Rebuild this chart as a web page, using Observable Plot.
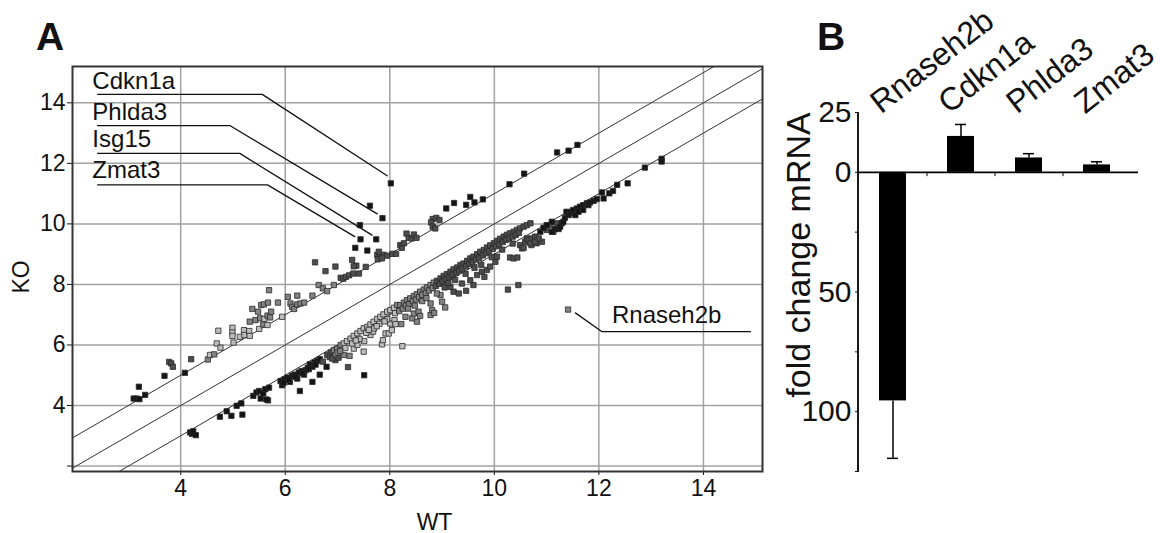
<!DOCTYPE html>
<html><head><meta charset="utf-8">
<script src="https://cdn.jsdelivr.net/npm/d3@7"></script>
<script src="https://cdn.jsdelivr.net/npm/@observablehq/plot@0.6"></script>
<style>
body{margin:0;background:#fff;}
#wrap{position:relative;width:1160px;height:533px;font-family:"Liberation Sans",Arial,sans-serif;color:#111;}
#pa{position:absolute;left:0;top:0;}
#pb{position:absolute;left:790px;top:0;}
.letter{position:absolute;font-weight:bold;font-size:39px;line-height:39px;}
</style></head><body>
<div id="wrap"><div id="pa"></div><div id="pb"></div>
<div class="letter" style="left:36px;top:17px">A</div>
<div class="letter" style="left:817px;top:17px">B</div></div>
<script>
// ---------- Panel A data (log2 expression, WT vs KO) ----------
const xTicksA = [4, 6, 8, 10, 12, 14];
const yTicksA = [2, 4, 6, 8, 10, 12, 14];
const diagOffsets = [1, 0, -1];
const toneColors = {k: "#141414", d: "#4d4d4d", m: "#838383", l: "#bdbdbd"};

const upperBand = [
[3.10,4.23,"k"],[3.16,4.23,"k"],[3.21,4.21,"k"],[3.20,4.62,"k"],[3.32,4.35,"k"],[3.69,4.98,"k"],
[3.78,5.44,"d"],[3.82,5.39,"d"],[3.85,5.28,"d"],[4.08,5.08,"k"],[4.20,5.53,"d"],
[4.52,5.52,"m"],[4.56,5.67,"l"],[4.64,5.69,"m"],[4.69,6.05,"l"],[4.76,5.91,"l"],[4.72,6.47,"l"],
[4.99,6.57,"l"],[4.99,6.41,"l"],[4.99,6.30,"l"],[5.01,6.08,"l"],[5.13,6.27,"l"],[5.21,6.49,"l"],[5.22,6.33,"l"],[5.31,6.46,"l"],[5.32,6.30,"l"],
[5.32,6.77,"m"],[5.37,7.19,"m"],[5.43,6.82,"m"],[5.48,7.10,"m"],[5.50,6.53,"l"],[5.52,6.88,"m"],[5.54,7.32,"m"],[5.58,6.68,"m"],[5.59,7.34,"m"],[5.60,6.86,"l"],[5.66,6.97,"m"],[5.67,7.40,"m"],[5.69,7.81,"m"],[5.66,6.66,"l"],[5.73,7.10,"m"],[5.71,6.91,"m"],[5.86,7.40,"m"],[5.94,6.93,"l"],
[6.05,7.59,"m"],[6.10,7.37,"m"],[6.13,7.26,"m"],[6.17,7.19,"m"],[6.23,7.63,"m"],[6.23,7.34,"m"],[6.29,7.37,"m"],[6.36,7.40,"m"],[6.52,7.63,"m"],
[6.57,8.73,"d"],[6.64,7.98,"m"],[6.72,7.87,"m"],[6.80,7.78,"m"],[6.93,7.98,"m"],[6.77,8.44,"d"],[6.96,8.59,"d"],
[7.06,8.22,"d"],[7.11,8.19,"d"],[7.16,8.25,"d"],[7.22,8.30,"d"],[7.30,8.36,"d"],[7.28,8.81,"d"],[7.36,8.62,"d"],[7.31,8.60,"d"],[7.41,8.36,"d"],[7.34,9.21,"k"],[7.57,9.12,"k"],[7.54,8.58,"d"],
[7.76,8.98,"d"],[7.82,8.95,"d"],[7.88,8.98,"d"],[7.95,8.95,"d"],[8.05,9.01,"d"],[8.12,9.01,"d"],[7.77,8.83,"d"],[7.85,8.86,"d"],[7.79,9.08,"d"],
[8.20,9.30,"d"],[8.23,9.21,"d"],[8.27,9.36,"d"],[8.32,9.68,"d"],[8.36,9.54,"d"],[8.42,9.52,"d"],[8.46,9.65,"d"],[8.51,9.54,"d"],
[8.82,10.16,"d"],[8.89,10.20,"d"],[8.95,10.13,"d"],[8.79,10.05,"d"],[8.82,9.91,"d"],[8.87,9.85,"d"],
[9.08,10.51,"k"],[9.23,10.69,"k"],[9.46,10.63,"k"],[9.54,10.89,"k"],[9.62,10.71,"k"],[9.78,10.81,"k"],[10.29,11.31,"k"],[10.57,11.66,"k"],[11.20,12.36,"k"],[11.42,12.42,"k"],[11.59,12.61,"k"],
[7.62,10.60,"k"],[7.43,9.96,"k"]
];

const lowerBand = [
[4.18,3.11,"k"],[4.22,3.06,"k"],[4.24,3.15,"k"],[4.29,3.02,"k"],[4.75,3.63,"k"],[4.88,3.81,"k"],[4.97,3.66,"k"],[5.07,3.99,"k"],[5.16,4.07,"k"],[5.18,3.70,"k"],[5.39,4.32,"k"],[5.45,4.43,"k"],[5.50,4.48,"k"],[5.53,4.23,"k"],[5.58,4.40,"k"],[5.62,4.54,"k"],[5.67,4.17,"k"],[5.69,4.59,"k"],[5.64,4.20,"k"],
[5.91,4.81,"k"],[5.94,4.67,"k"],[5.99,4.87,"k"],[6.04,4.92,"k"],[6.09,4.78,"k"],[6.13,4.98,"k"],[6.18,5.02,"k"],[6.23,4.89,"k"],[6.26,5.09,"k"],[6.31,5.14,"k"],[6.36,5.02,"k"],[6.39,5.17,"k"],[6.43,5.25,"k"],[6.47,5.36,"k"],[6.52,5.28,"k"],[6.56,5.42,"k"],[6.61,5.47,"k"],[6.66,5.53,"k"],
[5.97,4.75,"k"],[6.07,4.85,"k"],[6.20,4.95,"k"],[6.33,5.07,"k"],[6.45,5.20,"k"],[6.58,5.35,"k"],
[6.28,4.48,"k"],[6.52,4.78,"k"],[6.66,5.02,"k"],[6.79,5.28,"k"],[7.20,5.27,"d"],[7.51,5.00,"k"],
[6.80,5.67,"d"],[6.87,5.75,"d"],[6.93,5.83,"m"],[6.99,5.88,"m"],[7.06,6.00,"m"],[7.12,6.05,"l"],[7.18,6.13,"l"],[7.25,6.21,"l"],[7.31,6.30,"l"],[7.38,6.38,"l"],[7.44,6.46,"l"],[7.50,6.55,"l"],[7.57,6.60,"l"],[7.63,6.68,"l"],[7.69,6.77,"l"],[7.76,6.86,"l"],[7.82,6.93,"l"],[7.88,7.01,"l"],[7.95,7.10,"l"],[8.01,7.15,"l"],[8.08,7.23,"l"],[8.14,7.32,"m"],
[6.96,5.50,"d"],[7.02,5.58,"d"],[7.12,5.67,"m"],[7.23,5.64,"m"],[7.31,5.88,"l"],[7.38,6.00,"l"],[7.50,5.78,"l"],[7.51,6.13,"l"],[7.63,6.33,"l"],[7.68,6.44,"l"],[7.85,6.02,"l"],[7.87,6.16,"l"],[7.92,6.38,"l"],[8.01,6.71,"l"],[8.09,6.82,"l"],[8.24,5.96,"l"],
[6.72,5.45,"d"],[6.85,5.60,"d"],[7.00,5.75,"m"],[7.15,5.90,"l"],[7.28,6.05,"l"],[7.42,6.20,"l"],[7.55,6.40,"l"],[7.70,6.55,"l"],[7.80,6.70,"l"],[7.95,6.85,"l"],[6.90,5.55,"d"],[7.05,5.80,"m"],[7.35,6.15,"l"],[7.60,6.50,"l"],[7.75,6.62,"l"],[7.90,6.78,"l"],
[8.20,7.32,"m"],[8.27,7.40,"m"],[8.33,7.48,"m"],[8.39,7.54,"m"],[8.46,7.62,"m"],[8.52,7.68,"m"],[8.58,7.76,"m"],[8.65,7.83,"m"],[8.71,7.90,"m"],[8.78,7.98,"m"],[8.84,8.06,"m"],[8.90,8.12,"d"],[8.97,8.20,"d"],[9.03,8.28,"d"],[9.09,8.34,"d"],[9.16,8.42,"d"],[9.22,8.50,"d"],[9.29,8.56,"d"],[9.35,8.64,"d"],[9.41,8.69,"d"],[9.48,8.78,"d"],[9.54,8.86,"d"],[9.60,8.92,"d"],[9.67,9.00,"d"],[9.73,9.08,"d"],[9.80,9.14,"d"],[9.86,9.22,"d"],[9.92,9.29,"d"],[9.99,9.36,"d"],[10.05,9.44,"d"],[10.11,9.51,"d"],[10.18,9.58,"d"],[10.24,9.64,"d"],[10.30,9.69,"d"],[10.37,9.74,"d"],[10.43,9.80,"d"],[10.49,9.85,"d"],[10.56,9.91,"d"],[10.62,9.96,"d"],[10.69,10.02,"d"],
[8.10,7.05,"l"],[8.18,7.12,"m"],[8.25,7.20,"m"],[8.31,7.30,"m"],[8.37,7.35,"m"],[8.44,7.45,"m"],[8.50,7.50,"m"],[8.56,7.58,"m"],[8.62,7.66,"m"],[8.69,7.72,"m"],[8.75,7.80,"m"],[8.82,7.88,"m"],[8.88,7.95,"d"],[8.95,8.02,"d"],[9.01,8.10,"d"],[9.07,8.17,"d"],[9.14,8.24,"d"],[9.20,8.32,"d"],[9.27,8.38,"d"],[9.33,8.46,"d"],[9.39,8.52,"d"],[9.46,8.60,"d"],[9.52,8.68,"d"],[9.58,8.74,"d"],[9.65,8.82,"d"],[9.71,8.88,"d"],[9.78,8.96,"d"],[9.84,9.03,"d"],[9.90,9.10,"d"],[9.97,9.18,"d"],[10.03,9.26,"d"],[10.09,9.32,"d"],[10.16,9.40,"d"],[10.22,9.47,"d"],[10.28,9.52,"d"],[10.35,9.58,"d"],[10.41,9.64,"d"],[10.47,9.70,"d"],
[7.98,6.38,"l"],[8.04,6.49,"l"],[8.11,6.69,"l"],[8.22,6.69,"m"],[8.30,6.93,"m"],[8.43,6.88,"m"],[8.46,7.04,"m"],[8.52,6.77,"m"],[8.55,7.10,"m"],[8.58,6.96,"m"],[8.78,6.99,"m"],[8.81,7.15,"m"],[8.85,7.06,"m"],[8.78,7.37,"m"],[9.00,7.43,"m"],[9.06,7.24,"m"],[8.97,7.65,"m"],[9.22,7.76,"d"],[9.32,7.70,"d"],[9.46,7.79,"d"],[9.16,7.92,"d"],[9.38,8.03,"d"],[9.54,8.14,"d"],[9.60,7.98,"d"],[9.67,8.31,"d"],[9.76,8.42,"d"],[9.86,8.48,"d"],[9.81,8.25,"d"],[9.92,8.59,"d"],[10.02,8.75,"d"],[10.05,8.92,"d"],[10.26,7.83,"d"],[10.46,7.98,"d"],[10.30,8.89,"d"],[10.37,8.86,"d"],[10.44,8.89,"d"],[10.71,9.30,"d"],[10.81,9.36,"d"],[10.91,9.41,"d"],[10.49,9.30,"d"],[10.59,9.41,"d"],[10.62,9.52,"d"],[11.00,9.80,"d"],[11.07,9.96,"d"],[11.13,9.74,"d"],[11.20,10.02,"d"],
[8.35,7.20,"m"],[8.48,7.30,"m"],[8.62,7.45,"m"],[8.70,7.55,"m"],[8.90,7.70,"m"],[9.05,7.90,"d"],[9.12,8.05,"d"],[9.25,8.15,"d"],[9.45,8.35,"d"],[9.62,8.55,"d"],[9.75,8.65,"d"],[9.95,8.90,"d"],[10.15,9.15,"d"],[10.35,9.35,"d"],
[10.53,9.19,"d"],[10.56,9.21,"d"],[10.65,9.47,"d"],[10.69,9.36,"d"],[10.72,9.52,"d"],[10.78,9.58,"d"],[10.78,9.41,"d"],[10.85,9.52,"d"],[10.88,9.74,"k"],[10.94,9.87,"k"],[11.00,9.96,"k"],[11.10,10.07,"k"],[11.10,9.74,"k"],[11.16,9.83,"k"],[11.23,9.83,"k"],[11.26,9.91,"k"],[11.29,10.02,"k"],[11.32,10.07,"k"],[11.35,10.20,"k"],[11.38,10.40,"k"],[11.42,10.29,"k"],[11.45,10.35,"k"],[11.48,10.40,"k"],[11.51,10.46,"k"],[11.55,10.29,"k"],[11.58,10.51,"k"],[11.61,10.40,"k"],[11.64,10.57,"k"],[11.70,10.62,"k"],[11.70,10.46,"k"],[11.77,10.68,"k"],[11.80,10.62,"k"],[11.83,10.71,"k"],[11.90,10.76,"k"],[11.96,10.82,"k"],[12.06,11.04,"k"],[12.09,10.84,"k"],[12.20,11.01,"k"],[12.27,11.09,"k"],[12.35,11.29,"k"],[12.55,11.34,"k"],[12.88,11.86,"k"],[13.20,12.15,"k"],[13.20,12.06,"k"],
[11.41,7.17,"m"]
];

// labelled genes: point, text anchor, leader path
const geneNames  = ["Cdkn1a", "Phlda3", "Isg15", "Zmat3", "Rnaseh2b"];
const genePointX = [8.02, 7.86, 7.74, 7.44, 11.41];
const genePointY = [11.34, 10.19, 9.49, 9.49, 7.17];
const geneLabelX = [2.31, 2.31, 2.31, 2.31, 12.25];
const geneLabelY = [14.45, 13.43, 12.55, 11.50, 6.71];
const leaderPaths = [
  [[2.41,14.28],[5.56,14.28],[7.95,11.59]],
  [[2.41,13.25],[4.94,13.25],[7.76,10.33]],
  [[2.41,12.33],[5.13,12.33],[7.66,9.63]],
  [[2.41,11.29],[5.66,11.29],[7.33,9.58]],
  [[11.55,7.06],[12.06,6.44],[14.90,6.44]]
];

// ---------- Panel B data (qPCR fold change) ----------
const barGenes = ["Rnaseh2b", "Cdkn1a", "Phlda3", "Zmat3"];
const foldChange = [-95.5, 15, 6, 3.1];
const foldError = [24, 5, 1.8, 1.3];
const yTicksB = [25, 0, -25, -50, -75, -100, -125];
const yLabelsB = [25, 0, -50, -100];

const FONT = '"Liberation Sans", Arial, sans-serif';

// ---------- Panel A ----------
const xDomain = [1.93, 15.13], yDomain = [1.82, 15.2];
const points = upperBand.concat(lowerBand).map(([x, y, t]) => ({x, y, t}));
const genePts = geneNames.map((g, i) => ({gene: g, x: genePointX[i], y: genePointY[i]}));
const geneLbl = geneNames.map((g, i) => ({gene: g, x: geneLabelX[i], y: geneLabelY[i]}));
const leaderRows = leaderPaths.flatMap((p, i) => p.map(([x, y]) => ({gene: geneNames[i], x, y})));

const plotA = Plot.plot({
  width: 790, height: 533,
  marginLeft: 72, marginRight: 28, marginTop: 66, marginBottom: 62,
  x: {domain: xDomain},
  y: {domain: yDomain},
  style: {fontFamily: FONT, fontSize: "23px", color: "#111", background: "white", overflow: "visible"},
  marks: [
    Plot.gridX(xTicksA, {stroke: "#a2a2a2", strokeOpacity: 1, strokeWidth: 1.5}),
    Plot.gridY(yTicksA, {stroke: "#a2a2a2", strokeOpacity: 1, strokeWidth: 1.5}),
    Plot.link(diagOffsets, {x1: () => xDomain[0], y1: d => xDomain[0] + d, x2: () => xDomain[1], y2: d => xDomain[1] + d, clip: true, stroke: "#333", strokeWidth: 1}),
    Plot.dot(points, {x: "x", y: "y", symbol: "square", r: 3, fill: d => toneColors[d.t], stroke: "#2a2a2a", strokeWidth: 0.8}),
    Plot.dot(genePts.slice(0, 4), {x: "x", y: "y", symbol: "square", r: 3, fill: toneColors.k, stroke: "#2a2a2a", strokeWidth: 0.8}),
    Plot.line(leaderRows, {x: "x", y: "y", z: "gene", stroke: "#111", strokeWidth: 1.3}),
    Plot.text(geneLbl, {x: "x", y: "y", text: "gene", textAnchor: "start", lineAnchor: "bottom", fontSize: 24, fill: "#111"}),
    Plot.axisX(xTicksA, {tickSize: 4, tickPadding: 4, fontSize: 23, label: null}),
    Plot.axisY(yTicksA, {tickSize: 5, tickPadding: 2, fontSize: 23, label: null, tickFormat: d => d === 2 ? "" : String(d)}),
    Plot.text(["WT"], {frameAnchor: "bottom", textAnchor: "middle", lineAnchor: "middle", dx: 17, dy: 51, fontSize: 23}),
    Plot.text(["KO"], {frameAnchor: "left", textAnchor: "middle", lineAnchor: "middle", dx: -51, dy: 8, rotate: -90, fontSize: 23}),
    Plot.frame({stroke: "#333", strokeWidth: 2})
  ]
});
document.getElementById("pa").appendChild(plotA);

// ---------- Panel B ----------
const rows = barGenes.map((g, i) => ({gene: g, value: foldChange[i], err: foldError[i], end: foldChange[i] + Math.sign(foldChange[i]) * foldError[i]}));

const plotB = Plot.plot({
  width: 370, height: 533,
  marginLeft: 69, marginRight: 22, marginTop: 112, marginBottom: 62,
  x: {domain: barGenes, range: [69, 341], paddingInner: 0.6, paddingOuter: 0.3, axis: null},
  y: {domain: [-125, 25], axis: null},
  style: {fontFamily: FONT, fontSize: "30px", color: "#111", background: "white", overflow: "visible"},
  marks: [
    Plot.ruleX(rows, {x: "gene", y1: "value", y2: "end", stroke: "#000", strokeWidth: 1.5}),
    Plot.tickY(rows, {x: "gene", y: "end", insetLeft: 8, insetRight: 8, stroke: "#000", strokeWidth: 1.5}),
    Plot.barY(rows, {x: "gene", y: "value", fill: "#000"}),
    Plot.ruleY([0], {stroke: "#000", strokeWidth: 1.8}),
    Plot.ruleX(barGenes.slice(1), {x: d => d, y1: 0, y2: -1.8, dx: -34, stroke: "#000", strokeWidth: 1}),
    Plot.ruleX(barGenes.slice(0, 1), {x: d => d, y1: -125, y2: 25, dx: -35, stroke: "#000", strokeWidth: 1.8}),
    Plot.axisY(yTicksB, {tickSize: 4, tickPadding: 4, fontSize: 30, label: null, tickFormat: d => yLabelsB.includes(d) ? String(Math.abs(d)) : ""}),
    Plot.text(rows, {x: "gene", y: () => 25, text: "gene", rotate: -38, textAnchor: "start", lineAnchor: "bottom", dx: -12, dy: 2, fontSize: 32}),
    Plot.text(["fold change mRNA"], {frameAnchor: "left", textAnchor: "middle", lineAnchor: "middle", dx: -60, dy: -37, rotate: -90, fontSize: 34})
  ]
});
document.getElementById("pb").appendChild(plotB);
</script>
</body></html>
